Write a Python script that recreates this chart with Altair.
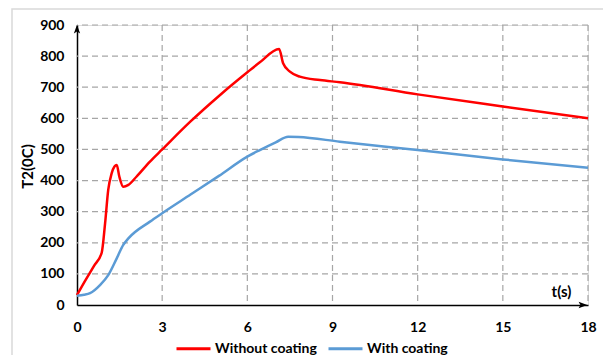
import altair as alt
import pandas as pd

# Without coating (red)
red_t = [0, 0.3, 0.6, 0.87, 0.99, 1.10, 1.22, 1.32, 1.40, 1.49, 1.63, 1.81, 2.10, 2.57,
         3, 4, 5, 6, 6.44, 7.12, 7.26, 7.5, 7.85, 8.56, 9.26, 12, 15, 18]
red_v = [32, 80, 126, 168, 263, 370, 423, 445, 450, 413, 380, 386, 413, 461,
         500, 590, 672, 748, 780, 823, 777, 750, 734, 723, 716, 677, 638, 600]

# With coating (blue)
blue_t = [0, 0.25, 0.46, 0.81, 1.10, 1.40, 1.63, 1.81, 2.57, 3, 4, 5, 6, 6.44, 7.0,
          7.44, 7.8, 9.26, 12, 15, 18]
blue_v = [30, 33, 38, 64, 96, 150, 193, 214, 268, 295, 355, 415, 477, 498, 523,
          541, 540, 525, 498, 468, 441]

series_names = ["Without coating", "With coating"]
series_colors = ["#FF0000", "#5B9BD5"]
x_ticks = [0, 3, 6, 9, 12, 15, 18]
y_ticks = [0, 100, 200, 300, 400, 500, 600, 700, 800, 900]

rows = [{"t": t, "T": v, "s": series_names[0], "o": i} for i, (t, v) in enumerate(zip(red_t, red_v))]
rows += [{"t": t, "T": v, "s": series_names[1], "o": i} for i, (t, v) in enumerate(zip(blue_t, blue_v))]
df = pd.DataFrame(rows)

FONT = "Lato"
GRID = "#a6a6a6"

xscale = alt.Scale(domain=[0, 18], nice=False, zero=False)
yscale = alt.Scale(domain=[0, 900], nice=False)

xaxis = alt.Axis(values=x_ticks, title="t(s)", titleX=484, titleY=-14,
                 titleAlign="center", titleBaseline="middle",
                 titleFontSize=15, titleFont=FONT, titleFontWeight="bold",
                 labelFont=FONT, labelFontSize=14, labelFontWeight="bold",
                 labelColor="#000", labelPadding=15, ticks=False, tickSize=0,
                 labelOverlap=False, labelFlush=False,
                 domainColor="#000", domainWidth=1.5, grid=False)
yaxis = alt.Axis(values=y_ticks, title="T2(0C)", titleX=-50, titleY=141,
                 titleAlign="center", titleBaseline="middle", titleAngle=270,
                 titleFontSize=15, titleFont=FONT, titleFontWeight="bold",
                 labelFont=FONT, labelFontSize=14, labelFontWeight="bold",
                 labelColor="#000", labelPadding=13, ticks=False, tickSize=0,
                 labelOverlap=False, labelFlush=False,
                 domainColor="#000", domainWidth=1.5, grid=False)

X = lambda: alt.X("t:Q", scale=xscale, axis=xaxis)
Y = lambda: alt.Y("T:Q", scale=yscale, axis=yaxis)

hgrid = alt.Chart(pd.DataFrame({"T": y_ticks[1:]})).mark_rule(
    color=GRID, strokeDash=[6, 4], strokeWidth=1.2
).encode(y=Y())
vgrid = alt.Chart(pd.DataFrame({"t": x_ticks[1:]})).mark_rule(
    color=GRID, strokeDash=[6, 4], strokeWidth=1.2
).encode(x=X())

lines = alt.Chart(df).mark_line(interpolate="monotone", strokeWidth=2.5).encode(
    x=X(), y=Y(),
    color=alt.Color("s:N", scale=alt.Scale(domain=series_names, range=series_colors),
                    legend=alt.Legend(title=None, orient="none", legendX=98, legendY=305,
                                      direction="horizontal", symbolType="stroke",
                                      symbolStrokeWidth=3, symbolSize=1156,
                                      labelFont=FONT, labelFontSize=14, labelFontWeight="bold",
                                      labelColor="#000", labelOffset=3, columnPadding=5)),
    order="o:Q",
)

arrow_path = "M0,-1L0.6,0.65L0,0.3L-0.6,0.65Z"
arrow_y = alt.Chart(pd.DataFrame({"t": [0], "T": [900]})).mark_point(
    shape=arrow_path, filled=True, color="#000", size=110, opacity=1, yOffset=5
).encode(x=X(), y=Y())
arrow_x = alt.Chart(pd.DataFrame({"t": [18], "T": [0]})).mark_point(
    shape=arrow_path, filled=True, color="#000", size=110, opacity=1, angle=90, xOffset=-6
).encode(x=X(), y=Y())

frame = alt.Chart(pd.DataFrame({"a": [0]})).mark_rect(
    fill="white", fillOpacity=0, stroke="#d9d9d9", strokeWidth=1.5
).encode(x=alt.value(-65), x2=alt.value(545), y=alt.value(-16), y2=alt.value(345))

chart = alt.layer(frame, hgrid, vgrid, lines, arrow_y, arrow_x).properties(
    width=511, height=280,
    autosize=alt.AutoSizeParams(type="none"),
    padding={"left": 69, "top": 17, "right": 15, "bottom": 50},
).configure_view(stroke=None).configure(background="white")

chart.save("out.html", embed_options={"renderer": "svg", "actions": False})
